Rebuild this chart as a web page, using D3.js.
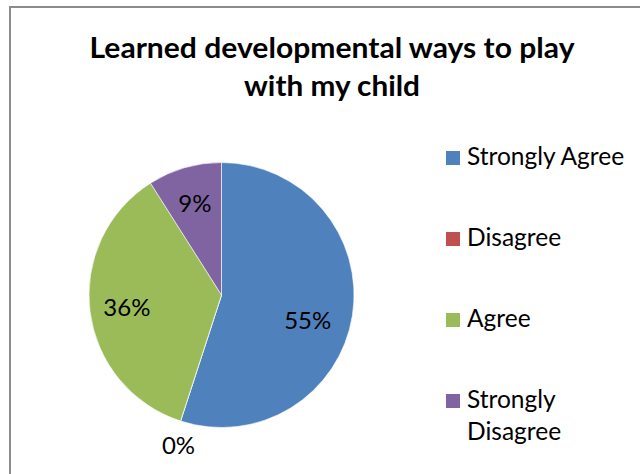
<!DOCTYPE html>
<html>
<head>
<meta charset="utf-8">
<script src="https://cdn.jsdelivr.net/npm/d3@7"></script>
<style>
  html, body { margin: 0; padding: 0; background: #fff; }
  svg { display: block; }
  text { font-family: Lato, "Open Sans", sans-serif; fill: #000; }
</style>
</head>
<body>
<svg id="chart" width="640" height="474"></svg>
<script>
// Survey responses
const categories = ["Strongly Agree", "Disagree", "Agree", "Strongly Disagree"];
const percents = [55, 0, 36, 9];
const sliceColors = ["#4F81BD", "#C0504D", "#9BBB59", "#8064A2"];
const titleLines = ["Learned developmental ways to play", "with my child"];

const svg = d3.select("#chart");
const W = 640, H = 474;

// Chart frame (extends past the right and bottom edges)
svg.append("rect")
  .attr("x", 10).attr("y", 7)
  .attr("width", W + 20).attr("height", H + 20)
  .attr("fill", "#fff")
  .attr("stroke", "#8c8c8c")
  .attr("stroke-width", 2);

// Title
const titleWidths = [485, 176];
svg.append("g").selectAll("text")
  .data(titleLines)
  .join("text")
  .attr("x", 332)
  .attr("y", (d, i) => 58 + i * 38)
  .attr("text-anchor", "middle")
  .attr("font-size", 28)
  .attr("font-weight", "bold")
  .attr("textLength", (d, i) => titleWidths[i])
  .attr("lengthAdjust", "spacingAndGlyphs")
  .text(d => d);

// Pie
const cx = 221.5, cy = 295, r = 132.5;
const data = categories.map((c, i) => ({ name: c, value: percents[i], color: sliceColors[i] }));

const pie = d3.pie().sort(null).value(d => d.value);
const arcs = pie(data);
const arc = d3.arc().innerRadius(0).outerRadius(r);
const innerLabelArc = d3.arc().innerRadius(r * 0.72).outerRadius(r * 0.72);
const outerLabelArc = d3.arc().innerRadius(r + 26).outerRadius(r + 26);

const g = svg.append("g").attr("transform", `translate(${cx},${cy})`);

g.selectAll("path")
  .data(arcs)
  .join("path")
  .attr("d", arc)
  .attr("fill", d => d.data.color)
  .attr("stroke", "#fff")
  .attr("stroke-width", 0.6);

// Data labels: inside the slice, or just outside when the slice is empty
g.selectAll("text.lbl")
  .data(arcs)
  .join("text")
  .attr("class", "lbl")
  .attr("transform", d => {
    let [x, y] = d.data.value === 0 ? outerLabelArc.centroid(d) : innerLabelArc.centroid(d);
    if (d.index === 0) { x -= 8; y += 10; }
    if (d.data.value === 0) { x += 6; }
    return `translate(${x},${y})`;
  })
  .attr("text-anchor", "middle")
  .attr("dy", "0.36em")
  .attr("font-size", 24)
  .text(d => d.data.value + "%");

// Legend
const legendX = 446, legendTop = 165, legendStep = 81, lineH = 32;
const legend = svg.append("g");
const items = legend.selectAll("g")
  .data(data)
  .join("g")
  .attr("transform", (d, i) => `translate(${legendX},${legendTop + i * legendStep})`);

items.append("rect")
  .attr("x", 0).attr("y", -14)
  .attr("width", 14).attr("height", 14)
  .attr("fill", d => d.color);

items.append("text")
  .attr("x", 21)
  .attr("y", 0)
  .attr("font-size", 24.5)
  .each(function(d) {
    const words = d.name === "Strongly Disagree" ? ["Strongly", "Disagree"] : [d.name];
    d3.select(this).selectAll("tspan")
      .data(words)
      .join("tspan")
      .attr("x", 21)
      .attr("y", (w, j) => j * lineH)
      .text(w => w);
  });
</script>
</body>
</html>
